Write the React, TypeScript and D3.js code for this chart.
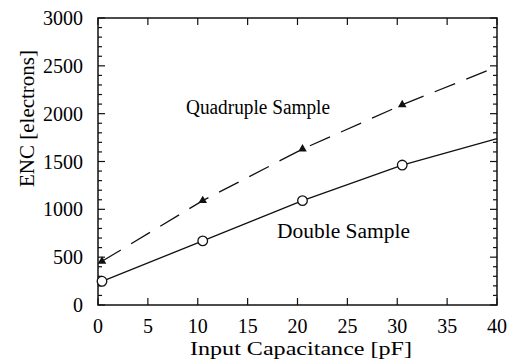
import React, { useEffect, useRef } from 'react';
import * as d3 from 'd3';

// input capacitance [pF]
const capacitance = [0.4, 10.5, 20.5, 30.5, 40];
// which points are measured (get a marker); the last one is only the fit end
const measured = [true, true, true, true, false];
const doubleSample = [248, 670, 1091, 1463, 1740];
const quadSample = [457, 1091, 1630, 2093, 2490];

const xTicks = [0, 5, 10, 15, 20, 25, 30, 35, 40];
const yTicks = [0, 500, 1000, 1500, 2000, 2500, 3000];

const W = 510;
const H = 361;
const FONT = '"Liberation Serif", "Times New Roman", Times, serif';

const App = () => {
    const svgRef = useRef(null);

    useEffect(() => {
        const svg = d3.select(svgRef.current);
        svg.selectAll('*').remove();

        const left = 98, right = 497, top = 18, bottom = 305;

        const x = d3.scaleLinear().domain([0, 40]).range([left, right]);
        const y = d3.scaleLinear().domain([0, 3000]).range([bottom, top]);

        const g = svg.append('g').attr('font-family', FONT);

        // frame
        g.append('rect')
            .attr('x', left).attr('y', top)
            .attr('width', right - left).attr('height', bottom - top)
            .attr('fill', 'none').attr('stroke', '#111').attr('stroke-width', 1.5);

        // y ticks, inward on both sides (minor every 100)
        d3.range(0, 3001, 100).forEach(v => {
            const len = v % 500 === 0 ? 7 : 4;
            g.append('line')
                .attr('x1', left).attr('x2', left + len)
                .attr('y1', y(v)).attr('y2', y(v))
                .attr('stroke', '#111').attr('stroke-width', 1.2);
            g.append('line')
                .attr('x1', right).attr('x2', right - len)
                .attr('y1', y(v)).attr('y2', y(v))
                .attr('stroke', '#111').attr('stroke-width', 1.2);
        });

        // x ticks, inward top and bottom
        xTicks.forEach(v => {
            g.append('line')
                .attr('x1', x(v)).attr('x2', x(v))
                .attr('y1', bottom).attr('y2', bottom - 7)
                .attr('stroke', '#111').attr('stroke-width', 1.2);
            g.append('line')
                .attr('x1', x(v)).attr('x2', x(v))
                .attr('y1', top).attr('y2', top + 7)
                .attr('stroke', '#111').attr('stroke-width', 1.2);
        });

        // tick labels
        g.selectAll('.ylab')
            .data(yTicks)
            .enter()
            .append('text')
            .attr('x', 83)
            .attr('y', d => y(d))
            .attr('dy', '0.35em')
            .attr('text-anchor', 'end')
            .attr('font-size', 20)
            .text(d => d);

        g.selectAll('.xlab')
            .data(xTicks)
            .enter()
            .append('text')
            .attr('x', d => x(d))
            .attr('y', 333)
            .attr('text-anchor', 'middle')
            .attr('font-size', 20)
            .text(d => d);

        // axis titles (scanned type is a bit wider than Liberation Serif)
        g.append('text')
            .attr('x', 190)
            .attr('y', 355)
            .attr('textLength', 222)
            .attr('lengthAdjust', 'spacingAndGlyphs')
            .attr('font-size', 19)
            .text('Input Capacitance [pF]');

        g.append('text')
            .attr('transform', 'translate(34,187) rotate(-90)')
            .attr('textLength', 137)
            .attr('lengthAdjust', 'spacingAndGlyphs')
            .attr('font-size', 20)
            .text('ENC [electrons]');

        const line = d3.line()
            .x(d => x(d[0]))
            .y(d => y(d[1]));

        const dbl = capacitance.map((c, i) => [c, doubleSample[i]]);
        const quad = capacitance.map((c, i) => [c, quadSample[i]]);

        g.append('path')
            .attr('d', line(dbl))
            .attr('fill', 'none')
            .attr('stroke', '#111')
            .attr('stroke-width', 1.3);

        g.append('path')
            .attr('d', line(quad))
            .attr('fill', 'none')
            .attr('stroke', '#111')
            .attr('stroke-width', 1.3)
            .attr('stroke-dasharray', '22,12');

        // markers
        dbl.filter((d, i) => measured[i]).forEach(d => {
            g.append('circle')
                .attr('cx', x(d[0])).attr('cy', y(d[1]))
                .attr('r', 4.8)
                .attr('fill', '#fff')
                .attr('stroke', '#111')
                .attr('stroke-width', 1.3);
        });

        const tri = d3.symbol().type(d3.symbolTriangle).size(32);
        quad.filter((d, i) => measured[i]).forEach(d => {
            g.append('path')
                .attr('d', tri())
                .attr('transform', `translate(${x(d[0])},${y(d[1])})`)
                .attr('fill', '#111');
        });

        // series labels
        g.append('text')
            .attr('x', 186)
            .attr('y', 114)
            .attr('textLength', 144)
            .attr('lengthAdjust', 'spacingAndGlyphs')
            .attr('font-size', 20)
            .text('Quadruple Sample');

        g.append('text')
            .attr('x', 277)
            .attr('y', 238)
            .attr('textLength', 133)
            .attr('lengthAdjust', 'spacingAndGlyphs')
            .attr('font-size', 20)
            .text('Double Sample');
    }, []);

    return (
        <svg
            ref={svgRef}
            width={W}
            height={H}
            style={{ position: 'absolute', left: 0, top: 0, background: '#fff' }}
        />
    );
};

export default App;
